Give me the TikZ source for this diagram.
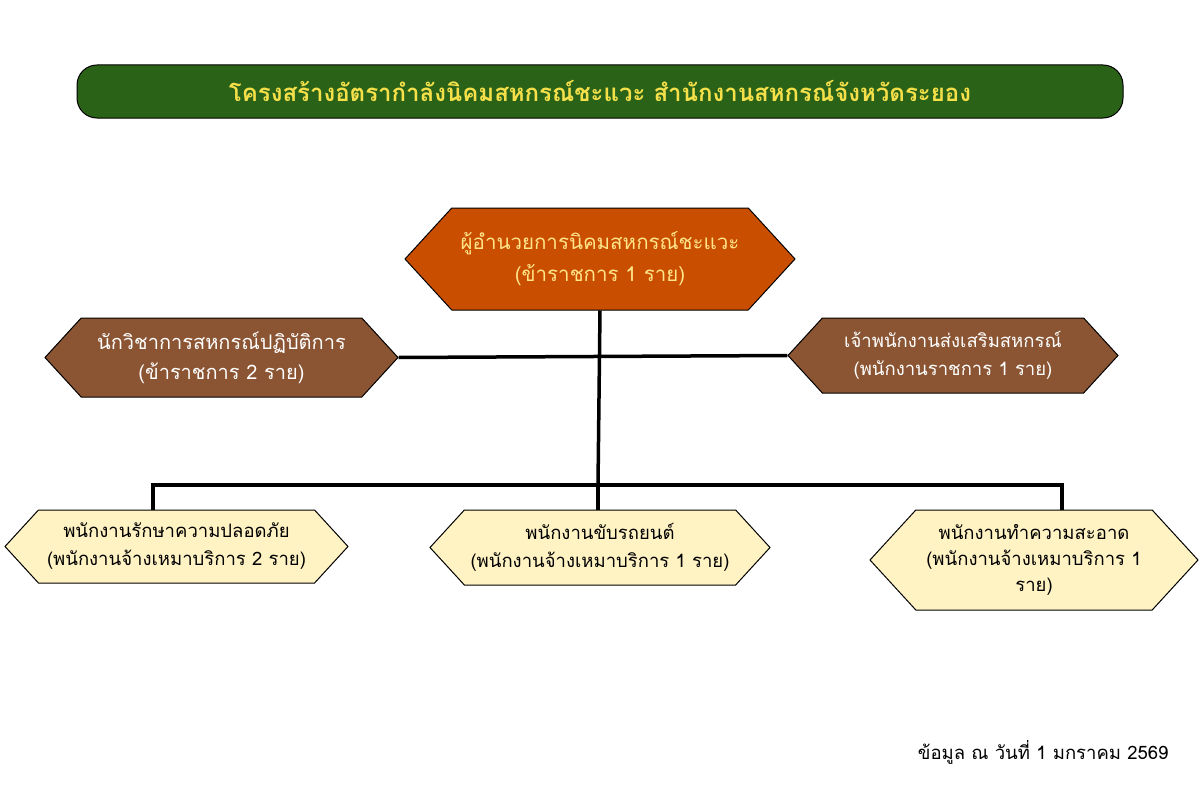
\documentclass[tikz,border=0pt]{standalone}
\usepackage{fontspec}
\setmainfont[Script=Thai]{Loma}
\usetikzlibrary{shapes.symbols}
\definecolor{tg}{HTML}{2A6218}
\definecolor{ty}{HTML}{F5E04A}
\definecolor{org}{HTML}{C94E00}
\definecolor{brn}{HTML}{8B5533}
\definecolor{cream}{HTML}{FFF3C4}
\definecolor{lt}{HTML}{FFE58A}
\begin{document}
\begin{tikzpicture}[x=1pt,y=-1pt,
 hexa/.style={signal,signal to=east and west,signal pointer angle=95,draw=black,line width=1pt,inner sep=0pt,align=center},
 ln/.style={line width=3.5pt}]
\useasboundingbox (0,0) rectangle (1200,800);
\node[draw=black,line width=1pt,fill=tg,rounded corners=20pt,minimum width=1046pt,minimum height=53pt,text=ty,font=\bfseries\fontsize{24}{28}\selectfont] (title) at (600,91.5) {โครงสร้างอัตรากำลังนิคมสหกรณ์ชะแวะ สำนักงานสหกรณ์จังหวัดระยอง};
\node[hexa,fill=org,text=lt,minimum width=390pt,minimum height=102pt,font=\fontsize{20.5}{32}\selectfont] (top) at (600,259) {ผู้อำนวยการนิคมสหกรณ์ชะแวะ\\(ข้าราชการ 1 ราย)};
\node[hexa,fill=brn,text=white,minimum width=353pt,minimum height=79pt,font=\fontsize{20}{30}\selectfont] (l) at (221.5,357.5) {นักวิชาการสหกรณ์ปฏิบัติการ\\(ข้าราชการ 2 ราย)};
\node[hexa,fill=brn,text=white,minimum width=330pt,minimum height=75pt,font=\fontsize{18.5}{28}\selectfont] (r) at (953,355.5) {เจ้าพนักงานส่งเสริมสหกรณ์\\(พนักงานราชการ 1 ราย)};
\node[hexa,fill=cream,minimum width=343pt,minimum height=73pt,font=\fontsize{18.5}{28}\selectfont] (b1) at (176.5,546.5) {พนักงานรักษาความปลอดภัย\\(พนักงานจ้างเหมาบริการ 2 ราย)};
\node[hexa,fill=cream,minimum width=340pt,minimum height=75pt,font=\fontsize{18.5}{28}\selectfont] (b2) at (600,547.5) {พนักงานขับรถยนต์\\(พนักงานจ้างเหมาบริการ 1 ราย)};
\node[hexa,fill=cream,minimum width=328pt,minimum height=100pt,font=\fontsize{18.5}{26}\selectfont] (b3) at (1034,560) {พนักงานทำความสะอาด\\(พนักงานจ้างเหมาบริการ 1\\ราย)};
\coordinate (j) at (598,485);
\coordinate (c1) at (153,485);
\coordinate (c3) at (1062,485);
\draw[ln] (top.south) -- (j);
\draw[ln] (l.east) -- (r.west);
\draw[ln] (c1 |- b1.north) -- (c1) -- (c3) -- (c3 |- b3.north);
\draw[ln] (j) -- (j |- b2.north);
\node[anchor=east,font=\fontsize{18.5}{20}\selectfont] (foot) at (1172,752) {ข้อมูล ณ วันที่ 1 มกราคม 2569};
\end{tikzpicture}
\end{document}
